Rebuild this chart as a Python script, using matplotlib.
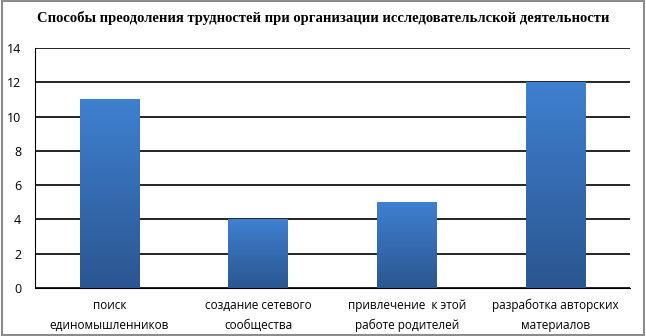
import matplotlib
matplotlib.use("Agg")
import matplotlib.pyplot as plt
import numpy as np
from matplotlib.colors import LinearSegmentedColormap
from matplotlib.patches import Rectangle

title = "Способы преодоления трудностей при организации исследовательлской деятельности"
categories = ["поиск\nединомышленников", "создание сетевого\nсообщества",
              "привлечение  к этой\nработе родителей", "разработка авторских\nматериалов"]
values = [11, 4, 5, 12]
yticks = [0, 2, 4, 6, 8, 10, 12, 14]

fig = plt.figure(figsize=(6.46, 3.36), dpi=100)
ax = fig.add_axes([35 / 646, 1 - 288 / 336, 595 / 646, 240 / 336])

# gradient fill for the bars (dark at bottom, lighter at top)
cmap = LinearSegmentedColormap.from_list("bar", ["#2B5690", "#3F80D0"])
grad = np.linspace(0, 1, 256).reshape(-1, 1)

x = np.arange(len(categories))
bars = ax.bar(x, values, width=0.4, color="none", edgecolor="none", zorder=3)
for b in bars:
    x0, y0 = b.get_x(), b.get_y()
    w, h = b.get_width(), b.get_height()
    im = ax.imshow(grad, cmap=cmap, aspect="auto", origin="lower",
                   extent=[x0, x0 + w, y0, y0 + h], zorder=3)
    im.set_clip_path(b)

ax.set_xlim(-0.5, len(categories) - 0.5)
ax.set_ylim(0, 14)
ax.set_yticks(yticks)
ax.set_xticks(x)
ax.set_xticklabels(categories, fontsize=8.5, family="Open Sans", linespacing=1.65)
for t in ax.get_yticklabels():
    t.set_fontsize(9)
    t.set_family("Open Sans")
ax.tick_params(length=0, pad=10)
ax.tick_params(axis="x", pad=8)
ax.grid(axis="y", color="black", linewidth=1.2, zorder=1)
ax.set_axisbelow(True)
for s in ["top", "right"]:
    ax.spines[s].set_visible(False)
ax.spines["left"].set_color("black")
ax.spines["bottom"].set_color("black")

fig.text(0.5, 1 - 18 / 336, title, ha="center", va="center",
         fontsize=10.5, fontweight="bold", family="Liberation Serif")

# outer frame of the chart area
fig.patches.append(Rectangle((0.003, 0.003), 0.994, 0.994, transform=fig.transFigure,
                             fill=False, edgecolor="#8C8C8C", linewidth=1.5))

fig.savefig("out.png", dpi=100)
